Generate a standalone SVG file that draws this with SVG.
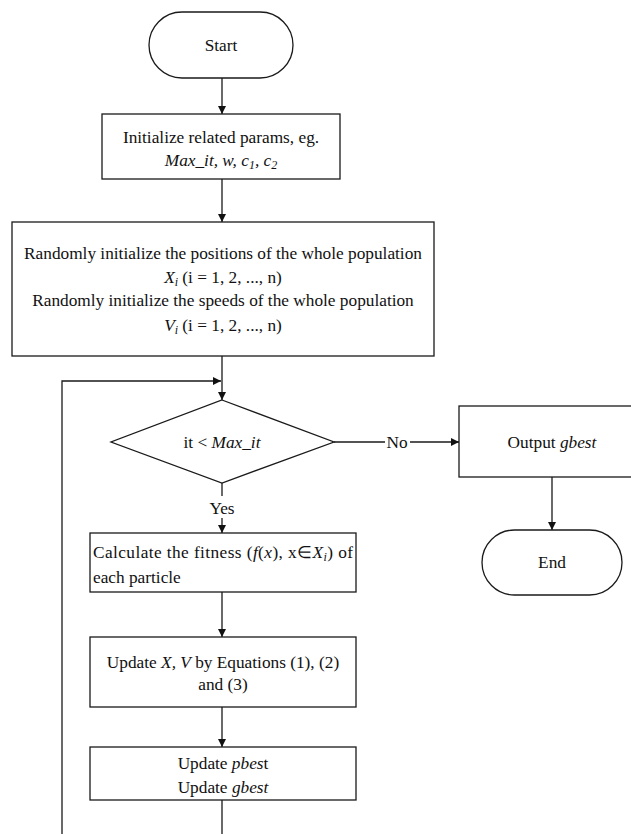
<svg xmlns="http://www.w3.org/2000/svg" width="631" height="834" viewBox="0 0 631 834">
<style>
.s{fill:#fff;stroke:#1a1a1a;stroke-width:1.3}
.c{fill:none;stroke:#1a1a1a;stroke-width:1.3}
text{font-family:"Liberation Serif","Times New Roman",serif;font-size:17.3px;fill:#111}
.m{text-anchor:middle}
.i{font-style:italic}
</style>
<defs>
<marker id="a" viewBox="0 0 10 10" refX="10" refY="5" markerWidth="8" markerHeight="8" markerUnits="userSpaceOnUse" orient="auto">
<path d="M0,0 L10,5 L0,10 Z" fill="#111"/>
</marker>
</defs>
<rect width="631" height="834" fill="#fff"/>
<g id="connectors">
<line class="c" x1="222" y1="78" x2="222" y2="114" marker-end="url(#a)"/>
<line class="c" x1="222" y1="179" x2="222" y2="222" marker-end="url(#a)"/>
<line class="c" x1="222" y1="356" x2="222" y2="400" marker-end="url(#a)"/>
<polyline class="c" points="62,834 62,381 221,381" marker-end="url(#a)"/>
<line class="c" x1="334" y1="442" x2="385" y2="442"/>
<line class="c" x1="410" y1="442" x2="459" y2="442" marker-end="url(#a)"/>
<text class="m" x="397" y="448">No</text>
<line class="c" x1="552" y1="477" x2="552" y2="530" marker-end="url(#a)"/>
<line class="c" x1="222" y1="483" x2="222" y2="496"/>
<line class="c" x1="222" y1="518" x2="222" y2="533" marker-end="url(#a)"/>
<text class="m" x="222" y="514">Yes</text>
<line class="c" x1="222" y1="592" x2="222" y2="637" marker-end="url(#a)"/>
<line class="c" x1="222" y1="707" x2="222" y2="747" marker-end="url(#a)"/>
<line class="c" x1="222" y1="800" x2="222" y2="834"/>
</g>
<g id="start">
<rect class="s" x="149" y="12" width="144" height="66" rx="33" ry="33"/>
<text class="m" x="221" y="51">Start</text>
</g>
<g id="init">
<rect class="s" x="102" y="114" width="238" height="65"/>
<text class="m" x="221" y="143">Initialize related params, eg.</text>
<text class="m" x="221" y="166"><tspan class="i">Max_it, w, c</tspan><tspan class="i" font-size="12" dy="3">1</tspan><tspan class="i" dy="-3">, c</tspan><tspan class="i" font-size="12" dy="3">2</tspan></text>
</g>
<g id="randinit">
<rect class="s" x="12" y="222" width="422" height="134"/>
<text class="m" x="223" y="259">Randomly initialize the positions of the whole population</text>
<text class="m" x="223" y="283"><tspan class="i">X</tspan><tspan class="i" font-size="12" dy="3">i</tspan><tspan dy="-3"> (i = 1, 2, ..., n)</tspan></text>
<text class="m" x="223" y="306">Randomly initialize the speeds of the whole population</text>
<text class="m" x="223" y="331"><tspan class="i">V</tspan><tspan class="i" font-size="12" dy="3">i</tspan><tspan dy="-3"> (i = 1, 2, ..., n)</tspan></text>
</g>
<g id="decision">
<polygon class="s" points="222,400 334,442 222,483 111,442"/>
<text class="m" x="222" y="448">it &lt; <tspan class="i">Max_it</tspan></text>
</g>
<g id="output">
<rect class="s" x="459" y="406" width="186" height="71"/>
<text class="m" x="552" y="448">Output <tspan class="i">gbest</tspan></text>
</g>
<g id="end">
<rect class="s" x="482" y="530" width="140" height="65" rx="32.5" ry="32.5"/>
<text class="m" x="552" y="568">End</text>
</g>
<g id="fitness">
<rect class="s" x="90" y="533" width="266" height="59"/>
<text x="93" y="558" textLength="260" lengthAdjust="spacing">Calculate the fitness (<tspan class="i">f</tspan>(<tspan class="i">x</tspan>),  x<tspan>∈</tspan><tspan class="i">X</tspan><tspan class="i" font-size="12" dy="3">i</tspan><tspan dy="-3">) of</tspan></text>
<text x="93" y="583">each particle</text>
</g>
<g id="update">
<rect class="s" x="90" y="637" width="266" height="70"/>
<text class="m" x="223" y="668">Update <tspan class="i">X, V</tspan> by Equations (1), (2)</text>
<text class="m" x="223" y="690">and (3)</text>
</g>
<g id="best">
<rect class="s" x="90" y="747" width="266" height="53"/>
<text class="m" x="223" y="769">Update <tspan class="i">pbes</tspan>t</text>
<text class="m" x="223" y="793">Update <tspan class="i">gbest</tspan></text>
</g>
</svg>
